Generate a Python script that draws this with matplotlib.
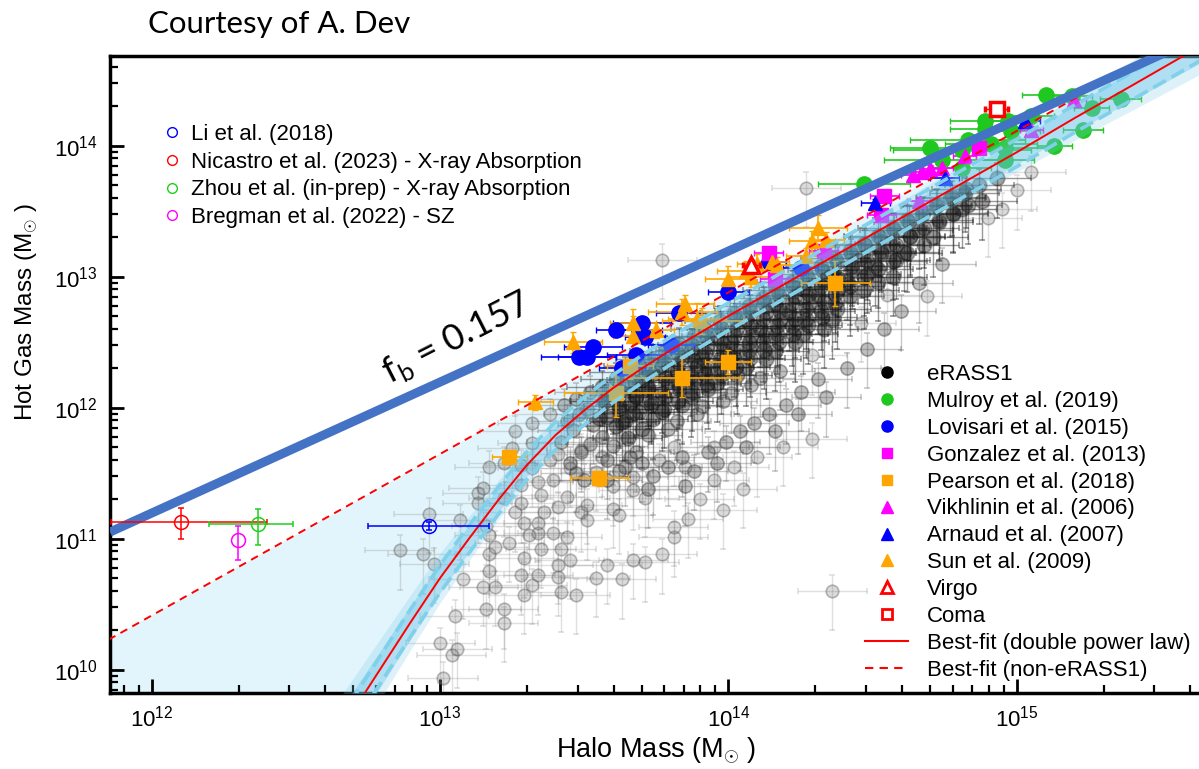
import numpy as np
import matplotlib
matplotlib.use("Agg")
import matplotlib.pyplot as plt
from matplotlib.lines import Line2D
from matplotlib.ticker import LogLocator, NullFormatter

plt.rcParams["font.family"] = ["Liberation Sans", "DejaVu Sans"]
plt.rcParams["mathtext.fontset"] = "custom"
plt.rcParams["mathtext.rm"] = "Liberation Sans"
plt.rcParams["mathtext.it"] = "Liberation Sans:italic"

# all values are log10(M / Msun)
fb = 0.157

# best fit, double power law (red solid)
fit_logm = [12.65, 12.70, 12.75, 12.8, 12.9, 13.0, 13.1, 13.2, 13.3, 13.4, 13.5, 13.6, 13.7, 13.8,
            13.9, 14.0, 14.2, 14.4, 14.6, 14.8, 15.0, 15.2, 15.4, 15.7]
fit_loggas = [9.52, 9.69, 9.86, 10.03, 10.37, 10.70, 11.00, 11.29, 11.56, 11.79, 11.98, 12.15, 12.30, 12.44,
              12.57, 12.70, 12.95, 13.20, 13.45, 13.70, 13.95, 14.21, 14.46, 14.84]
# half width of the posterior band around the fit (dex)
band_width = [0.26, 0.25, 0.24, 0.23, 0.21, 0.19, 0.17, 0.15, 0.14, 0.13, 0.12, 0.12, 0.12, 0.12,
              0.12, 0.12, 0.12, 0.12, 0.13, 0.14, 0.15, 0.17, 0.19, 0.22]
# offsets of the two light blue dashed curves from the fit (dex)
cyan_up = 0.10
cyan_lo = -0.11

# best fit, non-eRASS1 (red dashed)
dash_logm = [11.85, 15.70]
dash_loggas = [10.229, 14.976]

# eRASS1 clusters (logM, logMgas), sparse part
erass1_sparse = [
    (12.86, 10.91), (12.94, 10.88), (12.96, 11.19), (13.07, 11.14), (12.98, 10.81), (13.00, 10.20),
    (13.04, 10.11), (13.06, 10.16), (13.01, 9.94), (13.05, 10.41), (13.08, 10.69), (13.15, 10.63),
    (13.16, 10.46), (13.19, 10.63), (13.22, 10.46), (13.22, 10.36), (13.17, 10.88), (13.19, 10.94),
    (13.24, 10.97), (13.17, 10.75), (13.28, 10.72), (13.29, 10.57), (13.29, 10.85), (13.32, 10.65),
    (13.34, 10.72), (13.34, 11.04), (13.35, 10.92), (13.39, 11.04), (13.41, 10.80), (13.42, 10.92),
    (13.42, 10.59), (13.45, 10.84), (13.47, 10.57), (13.41, 10.71), (13.44, 11.01), (13.54, 10.70),
    (13.58, 10.80), (13.63, 10.69), (13.67, 10.84), (13.71, 10.82), (13.77, 10.88), (13.81, 11.01),
    (13.81, 11.09), (13.49, 11.20), (13.51, 11.14), (13.34, 11.12), (13.29, 11.12), (13.31, 11.03),
    (13.26, 11.20), (13.16, 11.10), (13.17, 11.03), (13.36, 11.20), (13.41, 11.24), (13.51, 11.26),
    (13.60, 11.23), (13.62, 11.18), (13.67, 11.37), (13.71, 11.31), (13.44, 11.32), (13.35, 11.33),
    (13.28, 11.27), (13.22, 11.31), (13.13, 11.35), (13.13, 11.27), (13.15, 11.39), (13.28, 11.41),
    (13.34, 11.43), (13.39, 11.45), (13.45, 11.54), (13.54, 11.51), (13.32, 11.54), (13.28, 11.56),
    (13.22, 11.58), (13.17, 11.55), (13.25, 11.69), (13.32, 11.73), (13.41, 11.65), (13.49, 11.68),
    (13.56, 11.62), (13.63, 11.78), (13.81, 11.70), (13.76, 11.60), (13.67, 11.47), (13.60, 11.40),
    (13.38, 11.60), (13.90, 11.30), (13.95, 11.45), (14.02, 11.55), (14.10, 11.62), (14.19, 11.70),
    (14.05, 11.38), (13.86, 11.15), (13.98, 11.22), (14.36, 10.60), (14.29, 11.76), (13.32, 11.88),
    (13.26, 11.82), (13.38, 11.95),
    (13.77, 13.13), (14.27, 13.68), (14.81, 13.66), (14.55, 12.86), (14.69, 12.85), (14.46, 12.65),
    (14.29, 12.40), (15.00, 13.66), (14.90, 13.45), (15.05, 13.80), (14.95, 13.52), (13.85, 11.55),
    (13.95, 11.70),
]

# moderately dense zone under the core
erass1_mid = [
    (13.58, 11.45), (13.64, 11.55), (13.70, 11.58), (13.74, 11.48), (13.79, 11.55), (13.84, 11.62),
    (13.88, 11.52), (13.93, 11.66), (13.99, 11.74), (14.04, 11.82), (14.09, 11.88), (14.14, 11.95),
    (14.20, 12.02), (14.25, 12.12), (14.31, 12.22), (13.72, 11.38), (13.85, 11.40), (13.96, 11.58),
    (14.06, 11.70), (14.16, 11.82), (14.24, 11.95), (14.34, 12.08), (14.41, 12.30), (14.48, 12.45),
    (14.54, 12.60), (14.60, 12.74), (14.66, 12.95), (14.74, 13.10),
    (13.43, 12.02), (13.44, 11.90), (13.42, 11.74), (13.45, 11.58),
    (13.47, 12.07), (13.48, 11.95), (13.46, 11.83), (13.49, 11.66), (13.47, 11.50),
    (13.52, 12.12), (13.51, 11.99), (13.53, 11.87), (13.52, 11.72), (13.50, 11.45),
    (13.56, 11.78), (13.58, 11.60), (13.60, 11.71), (13.62, 11.52), (13.66, 11.62), (13.68, 11.66),
    (13.72, 11.79), (13.79, 11.84), (13.82, 11.90), (13.89, 11.95), (13.91, 12.01), (13.98, 12.05),
    (14.01, 12.11), (14.08, 12.17), (14.11, 12.23), (14.18, 12.28),
]

# dense core along the fit
erass1_core = [
    (13.56, 12.16), (13.57, 12.05), (13.55, 11.92),
    (13.61, 12.22), (13.60, 12.10), (13.62, 11.99), (13.61, 11.86),
    (13.64, 12.27), (13.65, 12.16), (13.66, 12.03), (13.64, 11.90), (13.65, 11.77),
    (13.69, 12.32), (13.70, 12.21), (13.68, 12.09), (13.69, 11.97), (13.70, 11.84),
    (13.73, 12.37), (13.74, 12.26), (13.72, 12.14), (13.73, 12.02), (13.74, 11.91),
    (13.78, 12.43), (13.77, 12.32), (13.79, 12.20), (13.78, 12.08), (13.77, 11.97),
    (13.83, 12.49), (13.84, 12.38), (13.82, 12.27), (13.83, 12.14), (13.84, 12.02),
    (13.88, 12.55), (13.87, 12.44), (13.89, 12.32), (13.88, 12.20), (13.87, 12.08),
    (13.92, 12.60), (13.93, 12.49), (13.91, 12.38), (13.92, 12.26), (13.93, 12.14),
    (13.97, 12.66), (13.96, 12.55), (13.98, 12.44), (13.97, 12.31), (13.96, 12.19),
    (14.02, 12.72), (14.03, 12.61), (14.01, 12.50), (14.02, 12.38), (14.03, 12.25),
    (14.07, 12.78), (14.06, 12.67), (14.08, 12.55), (14.07, 12.44), (14.06, 12.31),
    (14.12, 12.84), (14.13, 12.73), (14.11, 12.61), (14.12, 12.50), (14.13, 12.37),
    (14.17, 12.90), (14.16, 12.79), (14.18, 12.67), (14.17, 12.56), (14.16, 12.43),
    (14.22, 12.96), (14.23, 12.85), (14.21, 12.73), (14.22, 12.62), (14.23, 12.50),
    (14.27, 13.02), (14.26, 12.91), (14.28, 12.80), (14.27, 12.68), (14.26, 12.56),
    (14.32, 13.08), (14.33, 12.97), (14.31, 12.86), (14.32, 12.74), (14.33, 12.60),
    (14.37, 13.14), (14.36, 13.03), (14.38, 12.91), (14.37, 12.80), (14.36, 12.67),
    (14.42, 13.20), (14.43, 13.08), (14.41, 12.97), (14.42, 12.85),
    (14.47, 13.25), (14.46, 13.14), (14.48, 13.02), (14.47, 12.90),
    (14.52, 13.31), (14.53, 13.20), (14.51, 13.08), (14.52, 12.96),
    (14.57, 13.37), (14.56, 13.25), (14.58, 13.13), (14.57, 13.00),
    (14.62, 13.43), (14.63, 13.31), (14.61, 13.19),
    (14.67, 13.48), (14.66, 13.36), (14.68, 13.24),
    (14.72, 13.54), (14.73, 13.42), (14.71, 13.30),
    (14.77, 13.60), (14.78, 13.48), (14.82, 13.64), (14.81, 13.52),
    (14.87, 13.70), (14.88, 13.58), (14.93, 13.75),
    (13.575, 12.05), (13.58, 11.93), (13.625, 12.13), (13.62, 12.01), (13.63, 11.89),
    (13.675, 12.20), (13.68, 12.08), (13.67, 11.96), (13.725, 12.28), (13.72, 12.16), (13.73, 12.04),
    (13.775, 12.35), (13.78, 12.23), (13.77, 12.11), (13.775, 11.99),
    (13.825, 12.41), (13.82, 12.29), (13.83, 12.17), (13.825, 12.05),
    (13.875, 12.48), (13.88, 12.36), (13.87, 12.24), (13.875, 12.12),
    (13.925, 12.54), (13.92, 12.42), (13.93, 12.30), (13.925, 12.18),
    (13.975, 12.61), (13.98, 12.49), (13.97, 12.37), (13.975, 12.25),
    (14.025, 12.67), (14.02, 12.55), (14.03, 12.43), (14.025, 12.31),
    (14.075, 12.74), (14.08, 12.62), (14.07, 12.50), (14.075, 12.38),
    (14.125, 12.80), (14.12, 12.68), (14.13, 12.56), (14.125, 12.44),
    (14.175, 12.86), (14.18, 12.74), (14.17, 12.62), (14.175, 12.50),
    (14.225, 12.92), (14.22, 12.80), (14.23, 12.68), (14.225, 12.56),
    (14.275, 12.99), (14.28, 12.87), (14.27, 12.75), (14.275, 12.63),
    (14.325, 13.05), (14.32, 12.93), (14.33, 12.81), (14.325, 12.69),
    (14.375, 13.11), (14.38, 12.99), (14.37, 12.87), (14.375, 12.75),
    (14.425, 13.17), (14.43, 13.05), (14.42, 12.93),
    (14.475, 13.24), (14.48, 13.12), (14.47, 13.00),
    (14.525, 13.30), (14.53, 13.18), (14.52, 13.06),
    (14.575, 13.36), (14.58, 13.24), (14.57, 13.12),
    (14.625, 13.42), (14.63, 13.30), (14.62, 13.18),
    (14.675, 13.49), (14.68, 13.37), (14.725, 13.55), (14.73, 13.43),
    (14.775, 13.61), (14.78, 13.49), (14.825, 13.67), (14.83, 13.55),
]

# Mulroy et al. (2019)
mulroy_logm = [15.10, 15.19, 14.89, 14.97, 15.05, 14.89, 14.98, 15.23, 15.13, 14.91, 14.83, 14.96,
               14.81, 14.70, 14.74, 14.47, 15.26, 15.36, 14.81, 14.96]
mulroy_loggas = [14.39, 14.38, 14.19, 14.19, 14.23, 14.13, 14.11, 14.12, 14.00, 14.01, 14.04, 13.98,
                 13.97, 13.98, 13.89, 13.71, 14.29, 14.36, 13.83, 13.89]
mulroy_xerr = [0.08, 0.07, 0.12, 0.09, 0.08, 0.12, 0.10, 0.07, 0.06, 0.16, 0.20, 0.14,
               0.24, 0.14, 0.20, 0.16, 0.06, 0.07, 0.10, 0.10]

# Lovisari et al. (2015)
lov_logm = [13.48, 13.51, 13.53, 13.61, 13.70, 13.69, 13.71, 13.68, 13.63, 13.83, 14.00, 14.14, 14.25, 13.80]
lov_loggas = [12.39, 12.39, 12.46, 12.59, 12.65, 12.59, 12.54, 12.40, 12.30, 12.72, 12.88, 13.11, 13.07, 12.48]
lov_xerr = [0.13, 0.10, 0.10, 0.07, 0.10, 0.08, 0.07, 0.10, 0.08, 0.08, 0.07, 0.06, 0.06, 0.08]

# Gonzalez et al. (2013)
gonz_logm = [14.14, 14.54, 14.87, 14.33, 14.16, 14.53]
gonz_loggas = [13.18, 13.62, 13.98, 13.20, 12.98, 13.47]

# Pearson et al. (2018)
pear_logm = [13.24, 13.55, 13.84, 14.00, 14.37, 13.66, 13.61]
pear_loggas = [11.62, 11.46, 12.23, 12.35, 12.95, 12.32, 12.11]
pear_xerr = [0.06, 0.10, 0.20, 0.08, 0.12, 0.08, 0.18]
pear_yerr = [0.05, 0.06, 0.15, 0.09, 0.17, 0.10, 0.18]

# Vikhlinin et al. (2006)
vikh_logm = [14.64, 14.67, 14.70, 14.74, 14.82, 15.20, 14.66, 15.05]
vikh_loggas = [13.78, 13.80, 13.82, 13.83, 13.92, 14.35, 13.58, 14.12]

# Arnaud et al. (2007)
arn_logm = [14.51, 14.75, 15.03]
arn_loggas = [13.56, 13.75, 14.19]

# Sun et al. (2009)
sun_logm = [13.33, 13.46, 13.67, 13.67, 13.75, 13.85, 13.84, 13.89, 13.91, 14.00, 14.08, 14.06,
            14.10, 14.15, 14.17, 14.31, 14.29, 14.34, 14.27]
sun_loggas = [12.04, 12.50, 12.65, 12.55, 12.59, 12.79, 12.73, 12.68, 12.66, 12.98, 13.00, 13.04,
              13.10, 13.11, 13.09, 13.37, 13.27, 13.28, 13.16]
sun_xerr = [0.06, 0.10, 0.08, 0.07, 0.06, 0.10, 0.12, 0.10, 0.14, 0.08, 0.08, 0.10,
            0.07, 0.06, 0.06, 0.10, 0.08, 0.06, 0.07]
sun_yerr = [0.06, 0.08, 0.10, 0.15, 0.06, 0.07, 0.10, 0.12, 0.10, 0.10, 0.08, 0.08,
            0.07, 0.10, 0.06, 0.10, 0.08, 0.06, 0.06]

virgo = (14.08, 13.09)
coma = (14.93, 14.28)

# Milky Way mass galaxies: (logM, logMgas, xerr_lo, xerr_hi, yerr_lo, yerr_hi)
li2018 = (12.96, 11.095, 0.21, 0.21, 0.03, 0.03)
nicastro2023 = (12.10, 11.126, 0.24, 0.30, 0.13, 0.11)
zhou_prep = (12.37, 11.11, 0.17, 0.12, 0.16, 0.12)
bregman2022 = (12.30, 10.99, 0.0, 0.0, 0.15, 0.11)


def to_lin(logv):
    return 10 ** np.asarray(logv, dtype=float)


def dex_err(logv, lo, hi):
    logv = np.asarray(logv, dtype=float)
    lo = np.broadcast_to(np.asarray(lo, dtype=float), logv.shape)
    hi = np.broadcast_to(np.asarray(hi, dtype=float), logv.shape)
    return np.vstack([10 ** logv - 10 ** (logv - lo), 10 ** (logv + hi) - 10 ** logv])


fig = plt.figure(figsize=(11.99, 7.69), dpi=100)
ax = fig.add_axes([110 / 1199, 76 / 769, 1095 / 1199, 637 / 769])
ax.set_xscale("log")
ax.set_yscale("log")
xlo, xhi = 10 ** 11.855, 10 ** 15.653
ylo, yhi = 10 ** 9.822, 10 ** 14.685
ax.set_xlim(xlo, xhi)
ax.set_ylim(ylo, yhi)

# pale region between the two fits
fm = np.array(fit_logm)
fg = np.array(fit_loggas)
poly_x = list(dash_logm) + list(fm[::-1]) + [dash_logm[0]]
poly_y = list(dash_loggas) + list(fg[::-1]) + [9.0]
ax.fill(to_lin(poly_x), to_lin(poly_y), color="#e2f5fc", lw=0, zorder=1)

# eRASS1, drawn in three density groups
for pts, size, face, edge, err in [
        (erass1_sparse, 9, (0.45, 0.45, 0.45, 0.25), (0.3, 0.3, 0.3, 0.38), (0.5, 0.5, 0.5, 0.25)),
        (erass1_mid, 9.5, (0.3, 0.3, 0.3, 0.35), (0.2, 0.2, 0.2, 0.4), (0.35, 0.35, 0.35, 0.32)),
        (erass1_core, 10.5, (0.1, 0.1, 0.1, 0.42), (0.05, 0.05, 0.05, 0.3), (0.12, 0.12, 0.12, 0.45))]:
    em = np.array([p[0] for p in pts])
    eg = np.array([p[1] for p in pts])
    ax.errorbar(to_lin(em), to_lin(eg), xerr=dex_err(em, 0.12, 0.12), yerr=dex_err(eg, 0.30, 0.12),
                fmt="o", ms=size, mfc=face, mec=edge, mew=1.2, ecolor=err, elinewidth=1, capsize=2,
                zorder=2)

green = "#1fc81f"
orange = "#ffa500"
ax.errorbar(to_lin(mulroy_logm), to_lin(mulroy_loggas), xerr=dex_err(mulroy_logm, mulroy_xerr, mulroy_xerr),
            yerr=dex_err(mulroy_loggas, 0.03, 0.03), fmt="o", ms=11, color=green, ecolor=green,
            elinewidth=1.2, capsize=2, zorder=3)
ax.errorbar(to_lin(lov_logm), to_lin(lov_loggas), xerr=dex_err(lov_logm, lov_xerr, lov_xerr),
            yerr=dex_err(lov_loggas, 0.03, 0.03), fmt="o", ms=11, color="blue", ecolor="blue",
            elinewidth=1.2, capsize=2, zorder=3)
ax.errorbar(to_lin(gonz_logm), to_lin(gonz_loggas), xerr=dex_err(gonz_logm, 0.05, 0.05),
            yerr=dex_err(gonz_loggas, 0.04, 0.04), fmt="s", ms=9.5, color="magenta", ecolor="magenta",
            elinewidth=1.2, capsize=2, zorder=3)
ax.errorbar(to_lin(pear_logm), to_lin(pear_loggas), xerr=dex_err(pear_logm, pear_xerr, pear_xerr),
            yerr=dex_err(pear_loggas, pear_yerr, pear_yerr), fmt="s", ms=9.5, color=orange, ecolor=orange,
            elinewidth=1.2, capsize=2, zorder=3)
ax.errorbar(to_lin(vikh_logm), to_lin(vikh_loggas), xerr=dex_err(vikh_logm, 0.04, 0.04),
            yerr=dex_err(vikh_loggas, 0.03, 0.03), fmt="^", ms=10, color="magenta", ecolor="magenta",
            elinewidth=1.2, capsize=2, zorder=3)
ax.errorbar(to_lin(arn_logm), to_lin(arn_loggas), xerr=dex_err(arn_logm, 0.05, 0.05),
            yerr=dex_err(arn_loggas, 0.03, 0.03), fmt="^", ms=10, color="blue", ecolor="blue",
            elinewidth=1.2, capsize=2, zorder=3)
ax.errorbar(to_lin(sun_logm), to_lin(sun_loggas), xerr=dex_err(sun_logm, sun_xerr, sun_xerr),
            yerr=dex_err(sun_loggas, sun_yerr, sun_yerr), fmt="^", ms=10, color=orange, ecolor=orange,
            elinewidth=1.2, capsize=2, zorder=3)

# posterior band and fits
bw = np.array(band_width)
ax.fill_between(to_lin(fm), to_lin(fg - bw), to_lin(fg + bw),
                color="#7ccbeb", alpha=0.25, lw=0, zorder=4)
ax.fill_between(to_lin(fm), to_lin(fg - 0.6 * bw), to_lin(fg + 0.6 * bw),
                color="#5bbde6", alpha=0.35, lw=0, zorder=4)
ax.plot(to_lin(fm), to_lin(fg + cyan_up), color="#80d0ea", lw=2.6, dashes=(4, 1.8), zorder=5)
ax.plot(to_lin(fm), to_lin(fg + cyan_lo), color="#80d0ea", lw=2.6, dashes=(4, 1.8), zorder=5)
ax.plot(to_lin(fm), to_lin(fg), color="red", lw=1.4, zorder=5)
ax.plot(to_lin(dash_logm), to_lin(dash_loggas), color="red", lw=1.4, dashes=(4, 3), zorder=5)

# cosmic baryon fraction
xx = np.array([xlo, xhi])
ax.plot(xx, fb * xx, color="#4472c4", lw=6.5, solid_capstyle="butt", zorder=6)
ax.text(10 ** 13.055, 10 ** 12.53, r"f$_\mathregular{b}$ = 0.157", family="Lato", fontsize=26,
        rotation=27, ha="center", va="center", zorder=7)

# Virgo and Coma
ax.errorbar([10 ** virgo[0]], [10 ** virgo[1]], xerr=dex_err([virgo[0]], 0.03, 0.03),
            yerr=dex_err([virgo[1]], 0.03, 0.03), fmt="^", ms=12, mfc="white", mec="red", mew=2.5,
            ecolor="red", elinewidth=1, capsize=2, zorder=7)
ax.errorbar([10 ** coma[0]], [10 ** coma[1]], xerr=dex_err([coma[0]], 0.04, 0.04),
            yerr=dex_err([coma[1]], 0.03, 0.03), fmt="s", ms=10, mfc="white", mec="red", mew=2.5,
            ecolor="red", elinewidth=1, capsize=2, zorder=7)

# Milky Way mass haloes
for (lm, lg, xl, xh, yl, yh), col in [(li2018, "blue"), (nicastro2023, "red"),
                                      (zhou_prep, "#1fd01f"), (bregman2022, "magenta")]:
    ax.errorbar([10 ** lm], [10 ** lg], xerr=dex_err([lm], xl, xh) if xl > 0 else None,
                yerr=dex_err([lg], yl, yh), fmt="o", ms=10, mfc="none", mec=col, mew=1.1,
                ecolor=col, elinewidth=1.1, capsize=2, zorder=7)

# axes styling
for side in ["top", "bottom", "left"]:
    ax.spines[side].set_linewidth(2.5)
ax.spines["right"].set_visible(False)
ax.xaxis.set_major_locator(LogLocator(base=10, numticks=10))
ax.yaxis.set_major_locator(LogLocator(base=10, numticks=10))
ax.xaxis.set_minor_locator(LogLocator(base=10, subs=np.arange(2, 10), numticks=20))
ax.yaxis.set_minor_locator(LogLocator(base=10, subs=np.arange(2, 10), numticks=20))
ax.xaxis.set_minor_formatter(NullFormatter())
ax.yaxis.set_minor_formatter(NullFormatter())
ax.tick_params(which="both", direction="in", top=False, right=False, labelsize=16)
ax.tick_params(which="major", length=10, width=2, pad=9)
ax.tick_params(which="minor", length=6, width=1.6)

fig.text(656 / 1199, 1 - 751 / 769, r"Halo Mass (M$_{\odot}$ )", fontsize=19.5, ha="center", va="center")
fig.text(27 / 1199, 1 - 312 / 769, r"Hot Gas Mass (M$_{\odot}$ )", fontsize=17.5, ha="center", va="center",
         rotation=90)
fig.text(148 / 1199, 1 - 24 / 769, "Courtesy of A. Dev", family="Lato", fontsize=22.5, ha="left", va="center")

# legends
leg1_handles = [Line2D([], [], ls="none", marker="o", ms=7, mfc="none", mec=c, mew=1)
                for c in ["blue", "red", "#1fd01f", "magenta"]]
leg1_labels = ["Li et al. (2018)", "Nicastro et al. (2023) - X-ray Absorption",
               "Zhou et al. (in-prep) - X-ray Absorption", "Bregman et al. (2022) - SZ"]
leg1 = ax.legend(leg1_handles, leg1_labels, loc="upper left", bbox_to_anchor=(164 / 1199, 1 - 124 / 769),
                 bbox_transform=fig.transFigure, frameon=False, fontsize=16, handlelength=0.7,
                 handletextpad=0.5, labelspacing=0.3, borderpad=0, borderaxespad=0)
ax.add_artist(leg1)

leg2_handles = [
    Line2D([], [], ls="none", marker="o", ms=8, color="black"),
    Line2D([], [], ls="none", marker="o", ms=8, color=green),
    Line2D([], [], ls="none", marker="o", ms=8, color="blue"),
    Line2D([], [], ls="none", marker="s", ms=7, color="magenta"),
    Line2D([], [], ls="none", marker="s", ms=7, color=orange),
    Line2D([], [], ls="none", marker="^", ms=8, color="magenta"),
    Line2D([], [], ls="none", marker="^", ms=8, color="blue"),
    Line2D([], [], ls="none", marker="^", ms=8, color=orange),
    Line2D([], [], ls="none", marker="^", ms=9, mfc="white", mec="red", mew=2),
    Line2D([], [], ls="none", marker="s", ms=7, mfc="white", mec="red", mew=2),
    Line2D([], [], color="red", lw=1.5),
    Line2D([], [], color="red", lw=1.5, dashes=(4, 3)),
]
leg2_labels = ["eRASS1", "Mulroy et al. (2019)", "Lovisari et al. (2015)", "Gonzalez et al. (2013)",
               "Pearson et al. (2018)", "Vikhlinin et al. (2006)", "Arnaud et al. (2007)",
               "Sun et al. (2009)", "Virgo", "Coma", "Best-fit (double power law)", "Best-fit (non-eRASS1)"]
ax.legend(leg2_handles, leg2_labels, loc="upper left", bbox_to_anchor=(865 / 1199, 1 - 364 / 769),
          bbox_transform=fig.transFigure, frameon=False, fontsize=16, handlelength=1.95,
          handletextpad=0.85, labelspacing=0.265, borderpad=0, borderaxespad=0)

fig.savefig("out.png", dpi=100)
